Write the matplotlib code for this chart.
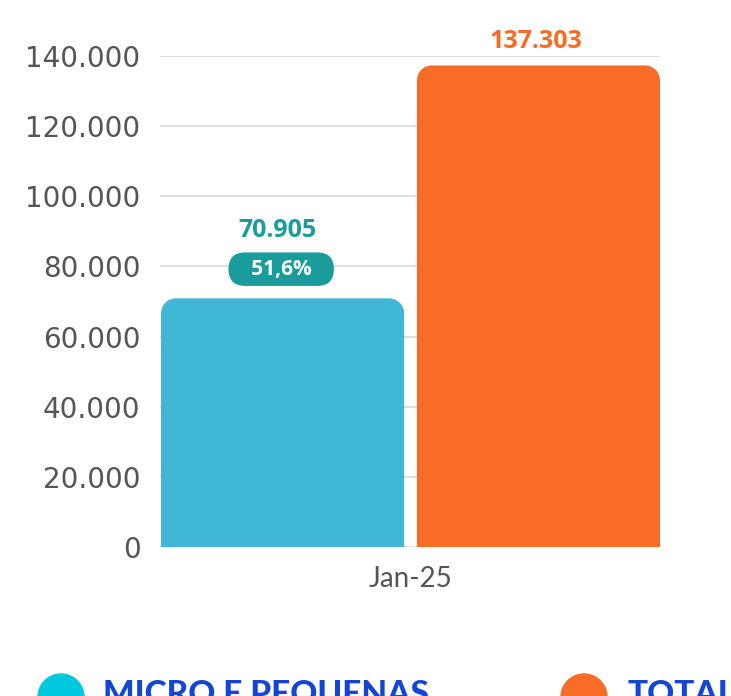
import numpy as np
import matplotlib
matplotlib.use("Agg")
import matplotlib.pyplot as plt
from matplotlib.path import Path
from matplotlib.patches import PathPatch, Circle

# data
categories = ["MICRO E PEQUENAS", "TOTAL"]
values = [70905, 137303]
value_labels = ["70.905", "137.303"]
share_label = "51,6%"
period = "Jan-25"
yticks = [0, 20000, 40000, 60000, 80000, 100000, 120000, 140000]
ytick_labels = ["0", "20.000", "40.000", "60.000", "80.000", "100.000", "120.000", "140.000"]

bar_colors = ["#41b7d6", "#f96c27"]
label_colors = ["#1a9c9c", "#f96c27"]
legend_colors = ["#00c8dc", "#f96c27"]

fig = plt.figure(figsize=(7.31, 6.96), dpi=100)
ax = fig.add_axes([160 / 731, 149 / 696, 500 / 731, 491 / 696])

x = np.arange(len(values))
width = 0.95
bars = ax.bar(x, values, width=width, color=bar_colors)
ax.set_xlim(-0.479, 1.475)
ax.set_ylim(0, 140000)

ax.set_yticks(yticks)
ax.set_yticklabels(ytick_labels, fontsize=20, color="#555555", family="DejaVu Sans")
ax.tick_params(axis="y", length=0, pad=14)
ax.set_xticks([0.5])
ax.set_xticklabels([period], fontsize=20, color="#555555", family="Lato")
ax.tick_params(axis="x", length=0, pad=14)
ax.grid(axis="y", color="#d9d9d9", linewidth=1.2)
ax.set_axisbelow(True)
for s in ax.spines.values():
    s.set_visible(False)

# swap the bars for versions with rounded top corners
r_px = 15
px_x = ax.transData.transform((1, 0))[0] - ax.transData.transform((0, 0))[0]
px_y = ax.transData.transform((0, 1))[1] - ax.transData.transform((0, 0))[1]
rx, ry = r_px / px_x, r_px / px_y
k = 0.5523
for b in bars:
    x0, y0 = b.get_x(), b.get_y()
    x1, y1 = x0 + b.get_width(), y0 + b.get_height()
    verts = [
        (x0, y0), (x0, y1 - ry),
        (x0, y1 - ry + k * ry), (x0 + rx - k * rx, y1), (x0 + rx, y1),
        (x1 - rx, y1),
        (x1 - rx + k * rx, y1), (x1, y1 - ry + k * ry), (x1, y1 - ry),
        (x1, y0), (x0, y0),
    ]
    codes = [Path.MOVETO, Path.LINETO,
             Path.CURVE4, Path.CURVE4, Path.CURVE4,
             Path.LINETO,
             Path.CURVE4, Path.CURVE4, Path.CURVE4,
             Path.LINETO, Path.CLOSEPOLY]
    ax.add_patch(PathPatch(Path(verts, codes), facecolor=b.get_facecolor(), edgecolor="none", zorder=2))
    b.set_visible(False)

# value labels
ax.annotate(value_labels[0], (x[0], values[0]), xytext=(-4, 49), textcoords="offset points",
            ha="center", va="center", fontsize=18, fontweight="bold", color=label_colors[0],
            family="Open Sans")
ax.annotate(value_labels[1], (x[1], values[1]), xytext=(-2, 17), textcoords="offset points",
            ha="center", va="center", fontsize=18, fontweight="bold", color=label_colors[1],
            family="Open Sans")
ax.annotate("   " + share_label + "   ", (x[0], values[0]), xytext=(-1, 21), textcoords="offset points",
            ha="center", va="center", fontsize=15, fontweight="bold", color="white",
            family="Open Sans",
            bbox=dict(boxstyle="round,pad=0.3,rounding_size=0.8", fc="#1a9c9c", ec="none"))

# legend at the bottom (runs off the page like the original)
lx = [61, 584]
tx = [103, 627]
for i in range(2):
    fig.add_artist(Circle((lx[i], -1), 23, transform=None, color=legend_colors[i]))
    fig.text(tx[i] / 731, 1 - 680 / 696, categories[i], fontsize=24, fontweight=900,
             color="#1446d6", family="Lato", va="top", ha="left")

fig.savefig("out.png", dpi=100)
